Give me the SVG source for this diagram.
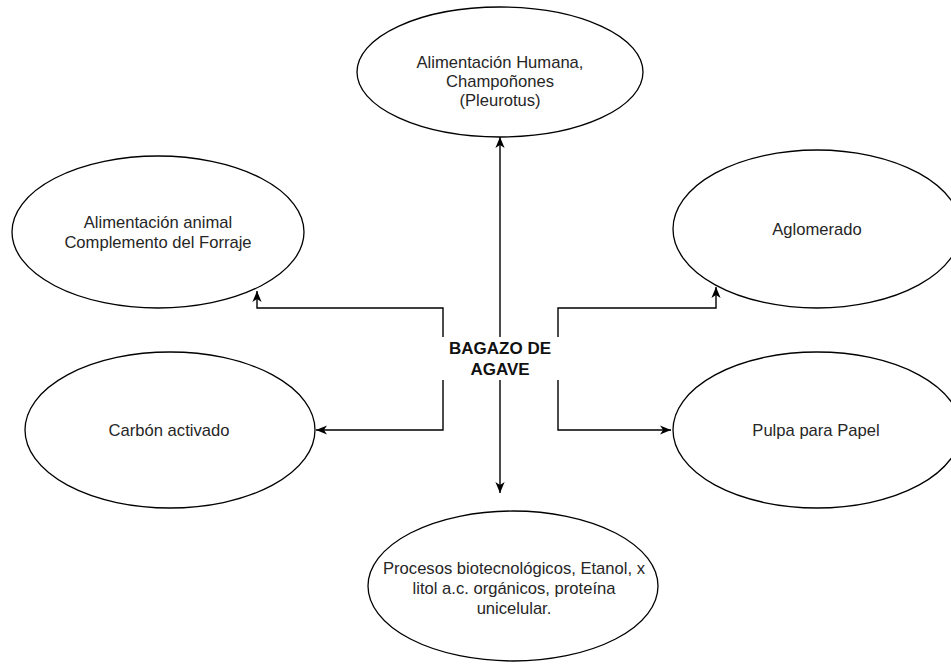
<svg xmlns="http://www.w3.org/2000/svg" width="951" height="668" viewBox="0 0 951 668">
<defs>
<style>
.node ellipse{fill:#fff;stroke:#000;stroke-width:1.3}
.t{font-family:"Liberation Sans",Arial,sans-serif;font-size:16.6px;fill:#262626;text-anchor:middle}
.b{font-weight:bold;font-size:17px;fill:#111}
.edge{fill:none;stroke:#000;stroke-width:1.4;marker-end:url(#arr)}
</style>
<marker id="arr" viewBox="0 0 10 10" refX="10" refY="5" markerWidth="11" markerHeight="11" markerUnits="userSpaceOnUse" orient="auto">
<path d="M0,0.8 L10,5 L0,9.2 L2.8,5 Z" fill="#000"/>
</marker>
</defs>
<rect width="951" height="668" fill="#fff"/>
<g id="connectors">
<path class="edge" d="M500,337 V137"/>
<path class="edge" d="M500,380 V493"/>
<path class="edge" d="M443,337 V308 H257 V291"/>
<path class="edge" d="M443,380 V430 H316"/>
<path class="edge" d="M558,337 V308 H716 V287"/>
<path class="edge" d="M558,380 V430 H671"/>
</g>
<g id="center">
<text class="t b" x="500" y="354">BAGAZO DE</text>
<text class="t b" x="500" y="375">AGAVE</text>
</g>
<g id="n-humana" class="node">
<ellipse cx="500" cy="72" rx="143" ry="65"/>
<text class="t" x="500" y="68">Alimentación Humana,</text>
<text class="t" x="500" y="87">Champoñones</text>
<text class="t" x="500" y="106">(Pleurotus)</text>
</g>
<g id="n-animal" class="node">
<ellipse cx="158" cy="232" rx="146" ry="76"/>
<text class="t" x="158" y="228">Alimentación animal</text>
<text class="t" x="158" y="248">Complemento del Forraje</text>
</g>
<g id="n-aglomerado" class="node">
<ellipse cx="817" cy="229" rx="144" ry="79"/>
<text class="t" x="817" y="235">Aglomerado</text>
</g>
<g id="n-carbon" class="node">
<ellipse cx="170" cy="430" rx="145" ry="78"/>
<text class="t" x="169" y="436">Carbón activado</text>
</g>
<g id="n-pulpa" class="node">
<ellipse cx="817" cy="430" rx="144" ry="78"/>
<text class="t" x="816" y="436">Pulpa para Papel</text>
</g>
<g id="n-procesos" class="node">
<ellipse cx="513" cy="586" rx="145" ry="75"/>
<text class="t" x="514" y="574">Procesos biotecnológicos, Etanol, x</text>
<text class="t" x="514" y="594">litol a.c. orgánicos, proteína</text>
<text class="t" x="514" y="614">unicelular.</text>
</g>
</svg>
